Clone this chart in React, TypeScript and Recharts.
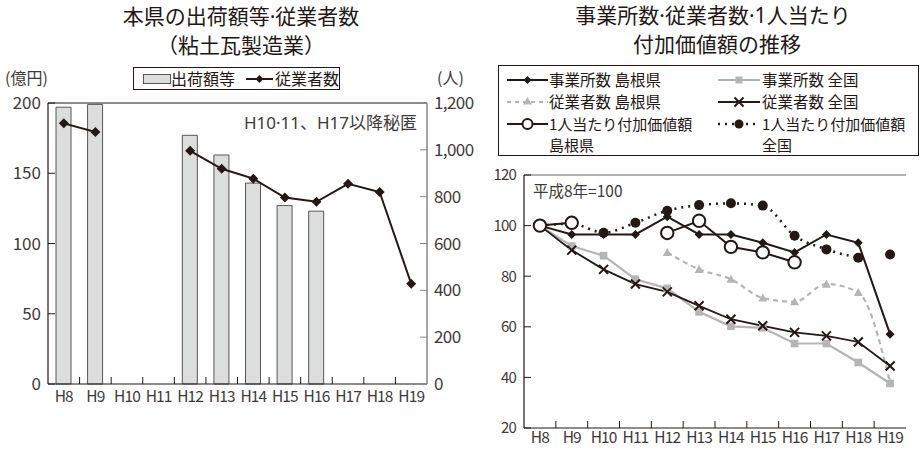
import React from 'react';
import { ComposedChart, Bar, Line, XAxis, YAxis, ReferenceLine } from 'recharts';

const FONT = '"Noto Sans CJK JP", "Noto Sans", sans-serif';
const FONT_DOT = '"Noto Sans", "Noto Sans CJK JP", sans-serif';
const INK = '#231815';
const TXT = '#3e3a39';
const GREY = '#b5b5b6';

// ---- data ----
const categories = ['H8', 'H9', 'H10', 'H11', 'H12', 'H13', 'H14', 'H15', 'H16', 'H17', 'H18', 'H19'];

// left chart
const shipments = [197, 199, null, null, 177, 163, 143, 127, 123, null, null, null];
const employees = [1113, 1076, null, null, 996, 919, 877, 796, 778, 855, 820, 428];
const leftTicks = [0, 50, 100, 150, 200];
const rightTicks = [0, 200, 400, 600, 800, 1000, 1200];

// right chart (H8 = 100)
const estShimane = [100, 96.5, 96.5, 96.5, 103.5, 96.5, 96.5, 93.2, 89.4, 96.5, 93.2, 57.1];
const estNational = [100, 91.9, 88.1, 78.8, 75.2, 65.9, 60.2, 59.6, 53.4, 53.4, 45.9, 37.6];
const empShimane = [100, null, null, null, 89.4, 82.7, 78.8, 71.4, 69.9, 76.9, 73.6, 38];
const empNational = [100, 90.3, 82.7, 76.9, 73.8, 68.3, 63.0, 60.4, 57.8, 56.4, 54.0, 44.5];
const vaShimane = [100, 101.1, null, null, 97.1, 101.9, 91.6, 89.4, 85.5, null, null, null];
const vaNational = [100, 100.7, 97.2, 101.1, 105.9, 108.1, 108.8, 107.9, 96.0, 90.6, 87.3, 88.6];
const indexTicks = [20, 40, 60, 80, 100, 120];

const leftData = categories.map((c, i) => ({ cat: c, shipments: shipments[i], employees: employees[i] }));
const lastIdx = categories.length - 1;
const rightData = categories.map((c, i) => ({
  cat: c,
  estShimane: estShimane[i],
  estNational: estNational[i],
  empShimane: empShimane[i],
  empNational: empNational[i],
  vaShimane: vaShimane[i],
  vaNatLine: i < lastIdx ? vaNational[i] : null,
  vaNatLast: i === lastIdx ? vaNational[i] : null,
}));

// ---- geometry of the two charts ----
const L_W = 480, L_H = 449, L_YL = 48, L_YR = 53;
const L_HALF = (L_W - L_YL - L_YR) / categories.length / 2;
const R_W = 440, R_H = 449, R_YL = 44, R_MR = 14;
const R_HALF = (R_W - R_YL - R_MR) / categories.length / 2;

const makeXTick = (half: number, baseOff: number, tickLen: number, fontSize: number) => (props: any) => {
  const { x, y, payload, index } = props;
  const axisY = y - 3;
  return (
    <g key={`xt-${index}`}>
      {index > 0 && (
        <line x1={x - half} x2={x - half} y1={axisY} y2={axisY - tickLen} stroke={INK} strokeWidth={1} />
      )}
      <text x={x} y={axisY + baseOff} textAnchor="middle" fontSize={fontSize} fill={TXT} fontFamily={FONT} letterSpacing={-0.9}>
        {payload.value}
      </text>
    </g>
  );
};

const isMissing = (p: any) => p.cx == null || p.cy == null || p.value == null || Number.isNaN(p.cy);

const diamondDot = (s: number) => (p: any) => {
  if (isMissing(p)) return <g key={`d-${p.index}`} />;
  const { cx, cy } = p;
  return <path key={`d-${p.index}`} d={`M${cx},${cy - s} L${cx + s},${cy} L${cx},${cy + s} L${cx - s},${cy} Z`} fill={INK} />;
};
const squareDot = (s: number) => (p: any) => {
  if (isMissing(p)) return <g key={`s-${p.index}`} />;
  return <rect key={`s-${p.index}`} x={p.cx - s} y={p.cy - s} width={2 * s} height={2 * s} fill={GREY} />;
};
const triangleDot = (s: number) => (p: any) => {
  if (isMissing(p)) return <g key={`t-${p.index}`} />;
  const { cx, cy } = p;
  return <path key={`t-${p.index}`} d={`M${cx},${cy - s} L${cx + s},${cy + s * 0.8} L${cx - s},${cy + s * 0.8} Z`} fill={GREY} />;
};
const crossDot = (s: number) => (p: any) => {
  if (isMissing(p)) return <g key={`x-${p.index}`} />;
  const { cx, cy } = p;
  return (
    <path key={`x-${p.index}`} d={`M${cx - s},${cy - s} L${cx + s},${cy + s} M${cx - s},${cy + s} L${cx + s},${cy - s}`} stroke={INK} strokeWidth={2} />
  );
};
const openDot = (r: number) => (p: any) => {
  if (isMissing(p)) return <g key={`o-${p.index}`} />;
  return <circle key={`o-${p.index}`} cx={p.cx} cy={p.cy} r={r} fill="#fff" stroke={INK} strokeWidth={2} />;
};
const fillDot = (r: number) => (p: any) => {
  if (isMissing(p)) return <g key={`f-${p.index}`} />;
  return <circle key={`f-${p.index}`} cx={p.cx} cy={p.cy} r={r} fill={INK} />;
};

const LeftChart = () => (
  <ComposedChart width={L_W} height={L_H} data={leftData} margin={{ top: 103, right: 0, bottom: 35, left: 0 }} style={{ fontFamily: FONT }}>
    <XAxis
      dataKey="cat"
      height={30}
      tickLine={false}
      tickSize={0}
      tickMargin={3}
      axisLine={{ stroke: INK, strokeWidth: 1.2 }}
      tick={makeXTick(L_HALF, 18, 7, 15.5)}
      interval={0}
    />
    <YAxis
      yAxisId="left"
      width={L_YL}
      domain={[0, 200]}
      ticks={leftTicks}
      tickSize={-7}
      tickMargin={14}
      axisLine={{ stroke: INK, strokeWidth: 1.2 }}
      tickLine={{ stroke: INK }}
      tick={{ fontSize: 17, fill: TXT, fontFamily: FONT }}
    />
    <YAxis
      yAxisId="right"
      orientation="right"
      width={L_YR}
      domain={[0, 1200]}
      ticks={rightTicks}
      tickSize={-7}
      tickMargin={14}
      tickFormatter={(v: number) => v.toLocaleString('en-US')}
      axisLine={{ stroke: '#888', strokeWidth: 1.5 }}
      tickLine={{ stroke: '#888' }}
      tick={{ fontSize: 17, fill: TXT, fontFamily: FONT, letterSpacing: -0.6 }}
    />
    <ReferenceLine yAxisId="left" y={200} stroke={INK} strokeWidth={1} />
    <Bar yAxisId="left" dataKey="shipments" barSize={15} fill="#dcdddd" stroke="#595757" strokeWidth={1} isAnimationActive={false} />
    <Line yAxisId="right" dataKey="employees" stroke={INK} strokeWidth={2} dot={diamondDot(5)} activeDot={false} isAnimationActive={false} />
  </ComposedChart>
);

const RightChart = () => (
  <ComposedChart width={R_W} height={R_H} data={rightData} margin={{ top: 175, right: R_MR, bottom: 0, left: 0 }} style={{ fontFamily: FONT }}>
    <XAxis
      dataKey="cat"
      scale="band"
      height={21}
      tickLine={false}
      tickSize={0}
      tickMargin={3}
      axisLine={{ stroke: INK, strokeWidth: 1.2 }}
      tick={makeXTick(R_HALF, 15, 7, 15.5)}
      interval={0}
    />
    <YAxis
      yAxisId="idx"
      width={R_YL}
      domain={[20, 120]}
      ticks={indexTicks}
      tickSize={-7}
      tickMargin={15}
      axisLine={{ stroke: INK, strokeWidth: 1.2 }}
      tickLine={{ stroke: INK }}
      tick={{ fontSize: 15, fill: TXT, fontFamily: FONT, letterSpacing: -0.8 }}
    />
    <YAxis yAxisId="frame" orientation="right" width={0} tick={false} tickLine={false} axisLine={{ stroke: '#888', strokeWidth: 1.5 }} />
    <ReferenceLine yAxisId="idx" y={120} stroke="#666" strokeWidth={1.2} />
    <Line yAxisId="idx" dataKey="estNational" stroke={GREY} strokeWidth={2.2} dot={squareDot(3.8)} activeDot={false} isAnimationActive={false} />
    <Line yAxisId="idx" type="monotone" dataKey="empShimane" stroke={GREY} strokeWidth={2.2} strokeDasharray="5 4" dot={triangleDot(4.5)} activeDot={false} isAnimationActive={false} />
    <Line yAxisId="idx" dataKey="empNational" stroke={INK} strokeWidth={1.8} dot={crossDot(4.5)} activeDot={false} isAnimationActive={false} />
    <Line yAxisId="idx" type="monotone" dataKey="vaNatLine" stroke={INK} strokeWidth={2.5} strokeDasharray="2 5" dot={fillDot(5)} activeDot={false} isAnimationActive={false} />
    <Line yAxisId="idx" dataKey="vaNatLast" stroke="none" dot={fillDot(5)} activeDot={false} isAnimationActive={false} />
    <Line yAxisId="idx" dataKey="estShimane" stroke={INK} strokeWidth={2} dot={diamondDot(4.5)} activeDot={false} isAnimationActive={false} />
    <Line yAxisId="idx" dataKey="vaShimane" stroke={INK} strokeWidth={2} dot={openDot(6.2)} activeDot={false} isAnimationActive={false} />
  </ComposedChart>
);

const Overlay = () => (
  <svg width={920} height={449} style={{ position: 'absolute', left: 0, top: 0, pointerEvents: 'none', fontFamily: FONT }}>
    {/* left titles */}
    <text x={241} y={24} textAnchor="middle" fontSize={21} fill={INK} fontFamily={FONT_DOT}>本県の出荷額等·従業者数</text>
    <text x={241} y={53} textAnchor="middle" fontSize={21} fill={INK}>（粘土瓦製造業）</text>
    {/* left legend */}
    <rect x={133.5} y={67.5} width={206} height={22} fill="#fff" stroke={INK} strokeWidth={1} />
    <rect x={143.5} y={74.5} width={27} height={9} fill="#dcdddd" stroke="#595757" strokeWidth={1} />
    <text x={171} y={85} fontSize={16} fill={INK}>出荷額等</text>
    <line x1={246} x2={273} y1={79} y2={79} stroke={INK} strokeWidth={2} />
    <path d="M259.5,75 L263.5,79 L259.5,83 L255.5,79 Z" fill={INK} />
    <text x={275} y={85} fontSize={16} fill={INK}>従業者数</text>
    {/* units */}
    <text x={5} y={84} fontSize={16} fill={TXT}>(億円)</text>
    <text x={437} y={84} fontSize={16} fill={TXT}>(人)</text>
    {/* annotation */}
    <text x={417} y={129} textAnchor="end" fontSize={17} fill={TXT} fontFamily={FONT_DOT}>H10·11、H17以降秘匿</text>

    {/* right titles */}
    <text x={713} y={23} textAnchor="middle" fontSize={21} fill={INK} fontFamily={FONT_DOT}>事業所数·従業者数·1人当たり</text>
    <text x={717} y={52} textAnchor="middle" fontSize={21} fill={INK}>付加価値額の推移</text>
    {/* right legend */}
    <rect x={498.5} y={65.5} width={420} height={90} fill="#fff" stroke={INK} strokeWidth={1} />
    {/* row 1 */}
    <line x1={507} x2={548} y1={80} y2={80} stroke={INK} strokeWidth={2} />
    <path d="M527.5,76 L531.5,80 L527.5,84 L523.5,80 Z" fill={INK} />
    <text x={549} y={85.5} fontSize={15.5} fill={INK}>事業所数 島根県</text>
    <line x1={718} x2={760} y1={80} y2={80} stroke={GREY} strokeWidth={2} />
    <rect x={735.5} y={76.5} width={7} height={7} fill={GREY} />
    <text x={762} y={85.5} fontSize={15.5} fill={INK}>事業所数 全国</text>
    {/* row 2 */}
    <line x1={507} x2={548} y1={102} y2={102} stroke={GREY} strokeWidth={2} strokeDasharray="4 4" />
    <path d="M527.5,97 L532,104.5 L523,104.5 Z" fill={GREY} />
    <text x={549} y={107.5} fontSize={15.5} fill={INK}>従業者数 島根県</text>
    <line x1={718} x2={760} y1={102} y2={102} stroke={INK} strokeWidth={2} />
    <path d="M734.5,97.5 L743.5,106.5 M734.5,106.5 L743.5,97.5" stroke={INK} strokeWidth={2} />
    <text x={762} y={107.5} fontSize={15.5} fill={INK}>従業者数 全国</text>
    {/* row 3 */}
    <line x1={507} x2={548} y1={124} y2={124} stroke={INK} strokeWidth={2} />
    <circle cx={527.5} cy={124} r={5} fill="#fff" stroke={INK} strokeWidth={2} />
    <text x={549} y={129.5} fontSize={15} fill={INK}>1人当たり付加価値額</text>
    <text x={549} y={151} fontSize={15} fill={INK}>島根県</text>
    <line x1={718} x2={760} y1={124} y2={124} stroke={INK} strokeWidth={2.5} strokeDasharray="2 5" />
    <circle cx={739} cy={124} r={4.5} fill={INK} />
    <text x={762} y={129.5} fontSize={15} fill={INK}>1人当たり付加価値額</text>
    <text x={762} y={151} fontSize={15} fill={INK}>全国</text>
    {/* base note */}
    <text x={533} y={197} fontSize={15.5} fill={TXT}>平成8年=100</text>
  </svg>
);

export default function App() {
  return (
    <div style={{ position: 'absolute', left: 0, top: 0, width: 920, height: 449, background: '#fff', fontFamily: FONT }}>
      <div style={{ position: 'absolute', left: 0, top: 0 }}>
        <LeftChart />
      </div>
      <div style={{ position: 'absolute', left: 480, top: 0 }}>
        <RightChart />
      </div>
      <Overlay />
    </div>
  );
}
